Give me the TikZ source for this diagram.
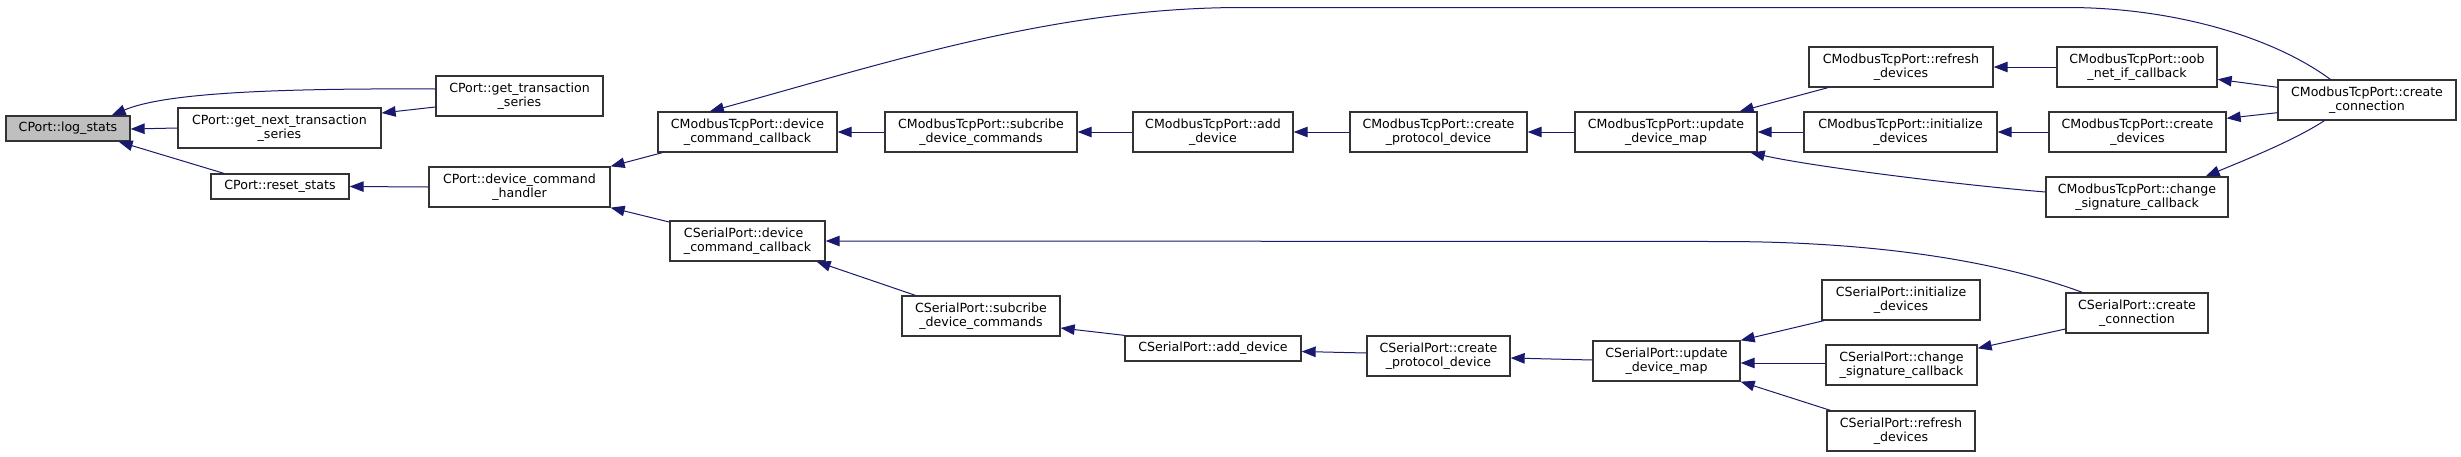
\documentclass[tikz,border=0pt]{standalone}
\usepackage{fontspec}
\setmainfont{DejaVu Sans}
\usetikzlibrary{arrows.meta}
\definecolor{edgecol}{HTML}{191970}
\definecolor{hilite}{HTML}{BFBFBF}
\definecolor{boxline}{HTML}{333333}
\tikzset{
  fn/.style={draw=boxline, line width=1.3pt, fill=white, inner sep=0pt, align=center,
    font=\fontsize{12.6}{14.3}\selectfont, text=black},
  edge/.style={draw=edgecol, line width=1pt, -{Triangle[length=14pt,width=10.5pt]}},
}
\begin{document}
\begin{tikzpicture}[x=1pt,y=-1pt]
\fill[white] (0,0) rectangle (2461,456);
\useasboundingbox (0,0) rectangle (2461,456);
% CPort
\node[fn, fill=hilite, minimum width=124pt, minimum height=25pt] (logstats) at (68,128.5) {CPort::log\_stats};
\node[fn, minimum width=203pt, minimum height=40pt] (getnext) at (279.5,128) {CPort::get\_next\_transaction\\\_series};
\node[fn, minimum width=167pt, minimum height=40pt] (gettrans) at (519.5,96) {CPort::get\_transaction\\\_series};
\node[fn, minimum width=138pt, minimum height=25pt] (reset) at (280,186.5) {CPort::reset\_stats};
\node[fn, minimum width=181pt, minimum height=40pt] (handler) at (519.5,187) {CPort::device\_command\\\_handler};
% Modbus
\node[fn, minimum width=179pt, minimum height=40pt] (mdcc) at (747.5,132) {CModbusTcpPort::device\\\_command\_callback};
\node[fn, minimum width=192pt, minimum height=40pt] (msub) at (981,132) {CModbusTcpPort::subcribe\\\_device\_commands};
\node[fn, minimum width=160pt, minimum height=40pt] (madd) at (1213,132) {CModbusTcpPort::add\\\_device};
\node[fn, minimum width=177pt, minimum height=40pt] (mcpd) at (1438.5,132) {CModbusTcpPort::create\\\_protocol\_device};
\node[fn, minimum width=182pt, minimum height=40pt] (mudm) at (1666,132) {CModbusTcpPort::update\\\_device\_map};
\node[fn, minimum width=184pt, minimum height=40pt] (mref) at (1901,67) {CModbusTcpPort::refresh\\\_devices};
\node[fn, minimum width=193pt, minimum height=40pt] (minit) at (1900.5,132) {CModbusTcpPort::initialize\\\_devices};
\node[fn, minimum width=182pt, minimum height=40pt] (mchg) at (2137,197) {CModbusTcpPort::change\\\_signature\_callback};
\node[fn, minimum width=160pt, minimum height=40pt] (moob) at (2137,67) {CModbusTcpPort::oob\\\_net\_if\_callback};
\node[fn, minimum width=177pt, minimum height=40pt] (mcdev) at (2137.5,132) {CModbusTcpPort::create\\\_devices};
\node[fn, minimum width=178pt, minimum height=40pt] (mconn) at (2367,100) {CModbusTcpPort::create\\\_connection};
% Serial
\node[fn, minimum width=155pt, minimum height=40pt, align=left] (sdcc) at (747.5,241) {CSerialPort::device\\\_command\_callback};
\node[fn, minimum width=158pt, minimum height=40pt] (ssub) at (981,316) {CSerialPort::subcribe\\\_device\_commands};
\node[fn, minimum width=176pt, minimum height=25pt] (sadd) at (1213,348.5) {CSerialPort::add\_device};
\node[fn, minimum width=143pt, minimum height=40pt] (scpd) at (1438.5,356) {CSerialPort::create\\\_protocol\_device};
\node[fn, minimum width=147pt, minimum height=40pt] (sudm) at (1666.5,361) {CSerialPort::update\\\_device\_map};
\node[fn, minimum width=158pt, minimum height=40pt] (sinit) at (1901,300) {CSerialPort::initialize\\\_devices};
\node[fn, minimum width=151pt, minimum height=40pt] (schg) at (1901.5,365) {CSerialPort::change\\\_signature\_callback};
\node[fn, minimum width=148pt, minimum height=40pt] (sref) at (1901,431) {CSerialPort::refresh\\\_devices};
\node[fn, minimum width=142pt, minimum height=40pt] (sconn) at (2137,313) {CSerialPort::create\\\_connection};
% edges
\draw[edge] ([yshift=7pt]gettrans.west) .. controls (250,88) and (160,95) .. ([xshift=-19pt]logstats.north east);
\draw[edge] (getnext.west) -- ([yshift=-0.5pt]logstats.east);
\draw[edge] ([yshift=-11pt]gettrans.west) -- ([yshift=15pt]getnext.east);
\draw[edge] ([xshift=13.5pt]reset.north west) -- ([xshift=-12pt]logstats.south east);
\draw[edge] (handler.west) -- (reset.east);
\draw[edge] ([xshift=5pt]mdcc.south west) -- (handler.north east);
\draw[edge] ([yshift=-1.7pt]sdcc.north west) -- (handler.south east);
\draw[edge] (msub.west) -- (mdcc.east);
\draw[edge] (madd.west) -- (msub.east);
\draw[edge] (mcpd.west) -- (madd.east);
\draw[edge] (mudm.west) -- (mcpd.east);
\draw[edge] ([xshift=19.6pt]mref.south west) -- ([xshift=-18pt]mudm.north east);
\draw[edge] (minit.west) -- (mudm.east);
\draw[edge] ([yshift=5pt]mchg.west) .. controls (1950,184) and (1810,166) .. ([xshift=-7pt]mudm.south east);
\draw[edge] (moob.west) -- (mref.east);
\draw[edge] ([yshift=12.7pt]mconn.west) -- ([yshift=-12.3pt]moob.east);
\draw[edge] (mcdev.west) -- (minit.east);
\draw[edge] ([yshift=-12.7pt]mconn.west) -- ([yshift=13.7pt]mcdev.east);
\draw[edge] ([xshift=47pt]mconn.south west) .. controls (2295,140) and (2245,160) .. ([xshift=-23pt]mchg.north east);
\draw[edge] ([xshift=53pt]mconn.north west) .. controls (2270,35) and (2170,8) .. (2070,7.5)
  -- (1240,7.5) .. controls (1050,8) and (880,65) .. ([xshift=52.5pt]mdcc.north west);
\draw[edge] ([xshift=17pt]sconn.north west) .. controls (2000,262) and (1880,241.5) .. (1720,241.5) -- (sdcc.east);
\draw[edge] ([xshift=14pt]ssub.north west) -- ([xshift=-9pt]sdcc.south east);
\draw[edge] (sadd.north west) -- ([yshift=-12pt]ssub.east);
\draw[edge] ([yshift=3pt]scpd.west) -- ([yshift=-3pt]sadd.east);
\draw[edge] ([yshift=1pt]sudm.west) -- ([yshift=-2pt]scpd.east);
\draw[edge] ([xshift=2.5pt]sinit.south west) -- (sudm.north east);
\draw[edge] ([yshift=2pt]schg.west) -- ([yshift=-2pt]sudm.east);
\draw[edge] ([xshift=4pt]sref.north west) -- (sudm.south east);
\draw[edge] ([yshift=-16pt]sconn.west) -- ([yshift=16.7pt]schg.east);
\end{tikzpicture}
\end{document}
